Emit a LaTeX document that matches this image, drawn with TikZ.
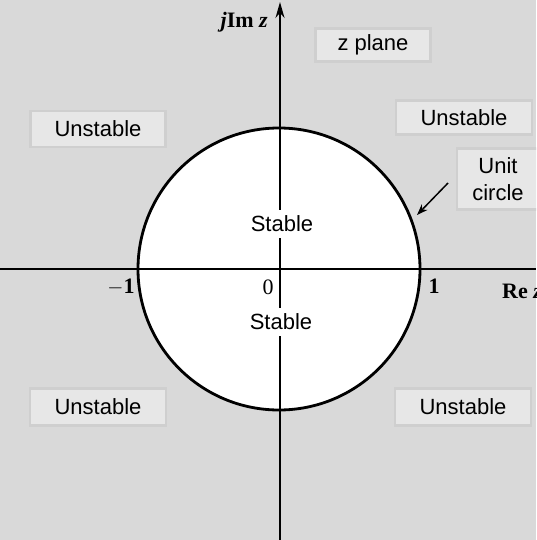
\documentclass[tikz,border=0pt]{standalone}
\usepackage{fontspec}
\setmainfont{Liberation Serif}
\setsansfont{Liberation Sans}
\usetikzlibrary{arrows.meta}
\definecolor{bg}{HTML}{D9D9D9}
\definecolor{boxfill}{HTML}{E7E7E7}
\definecolor{boxline}{HTML}{CFCFCF}
\tikzset{
  lab/.style={draw=boxline, line width=2.5pt, fill=boxfill, font=\sffamily\fontsize{22}{26}\selectfont, inner sep=0pt, minimum height=36pt, align=center},
  stab/.style={fill=white, font=\sffamily\fontsize{22}{26}\selectfont, inner sep=6pt},
  axlab/.style={font=\fontsize{22}{26}\selectfont, inner sep=1pt},
  axis/.style={line width=1.8pt},
}
\begin{document}
\begin{tikzpicture}[x=1pt,y=-1pt]
\useasboundingbox (0,0) rectangle (536,540);
\clip (0,0) rectangle (536,540);
\fill[bg] (0,0) rectangle (536,540);
\coordinate (O) at (279,269);
\fill[white] (O) circle (141);
% axes
\coordinate (xl) at (0,269);
\coordinate (xr) at (536,269);
\coordinate (yb) at (280,540);
\coordinate (yt) at (280,2);
\draw[axis] (xl) -- (xr);
\draw[axis, -{Stealth[length=16pt,width=9pt]}] (yb) -- (yt);
% circle
\draw[line width=2.8pt] (O) circle (141);
% stable labels
\node[stab] (s1) at (282,224) {Stable};
\node[stab] (s2) at (281,322) {Stable};
% axis labels
\node[axlab, anchor=east] (im) at (269,22) {\textbf{\textit{j}Im \textit{z}}};
\node[axlab, fill=white] (zero) at (268,287) {0};
\node[axlab] (m1) at (121,287) {\textbf{$-$1}};
\node[axlab] (p1) at (434,286) {\textbf{1}};
\node[axlab, anchor=west] (re) at (501,291) {\textbf{Re \textit{z}}};
% boxes
\node[lab, minimum width=115pt, minimum height=33pt] (zp) at (373,45) {z plane};
\node[lab, minimum width=135pt] (u1) at (98,129) {Unstable};
\node[lab, minimum width=136pt, minimum height=34pt] (u2) at (464,117.5) {Unstable};
\node[lab, minimum width=82pt, minimum height=61pt, font=\sffamily\fontsize{22}{27}\selectfont, text width=80pt] (uc) at (498,179) {Unit\\circle};
\node[lab, minimum width=136pt, minimum height=37pt] (u3) at (98,407) {Unstable};
\node[lab, minimum width=136pt, minimum height=37pt] (u4) at (463,407) {Unstable};
% arrow
\coordinate (a0) at (448,183);
\coordinate (a1) at (417,215);
\draw[line width=1.5pt, -{Stealth[length=11pt,width=8pt]}] (a0) -- (a1);
\end{tikzpicture}
\end{document}
